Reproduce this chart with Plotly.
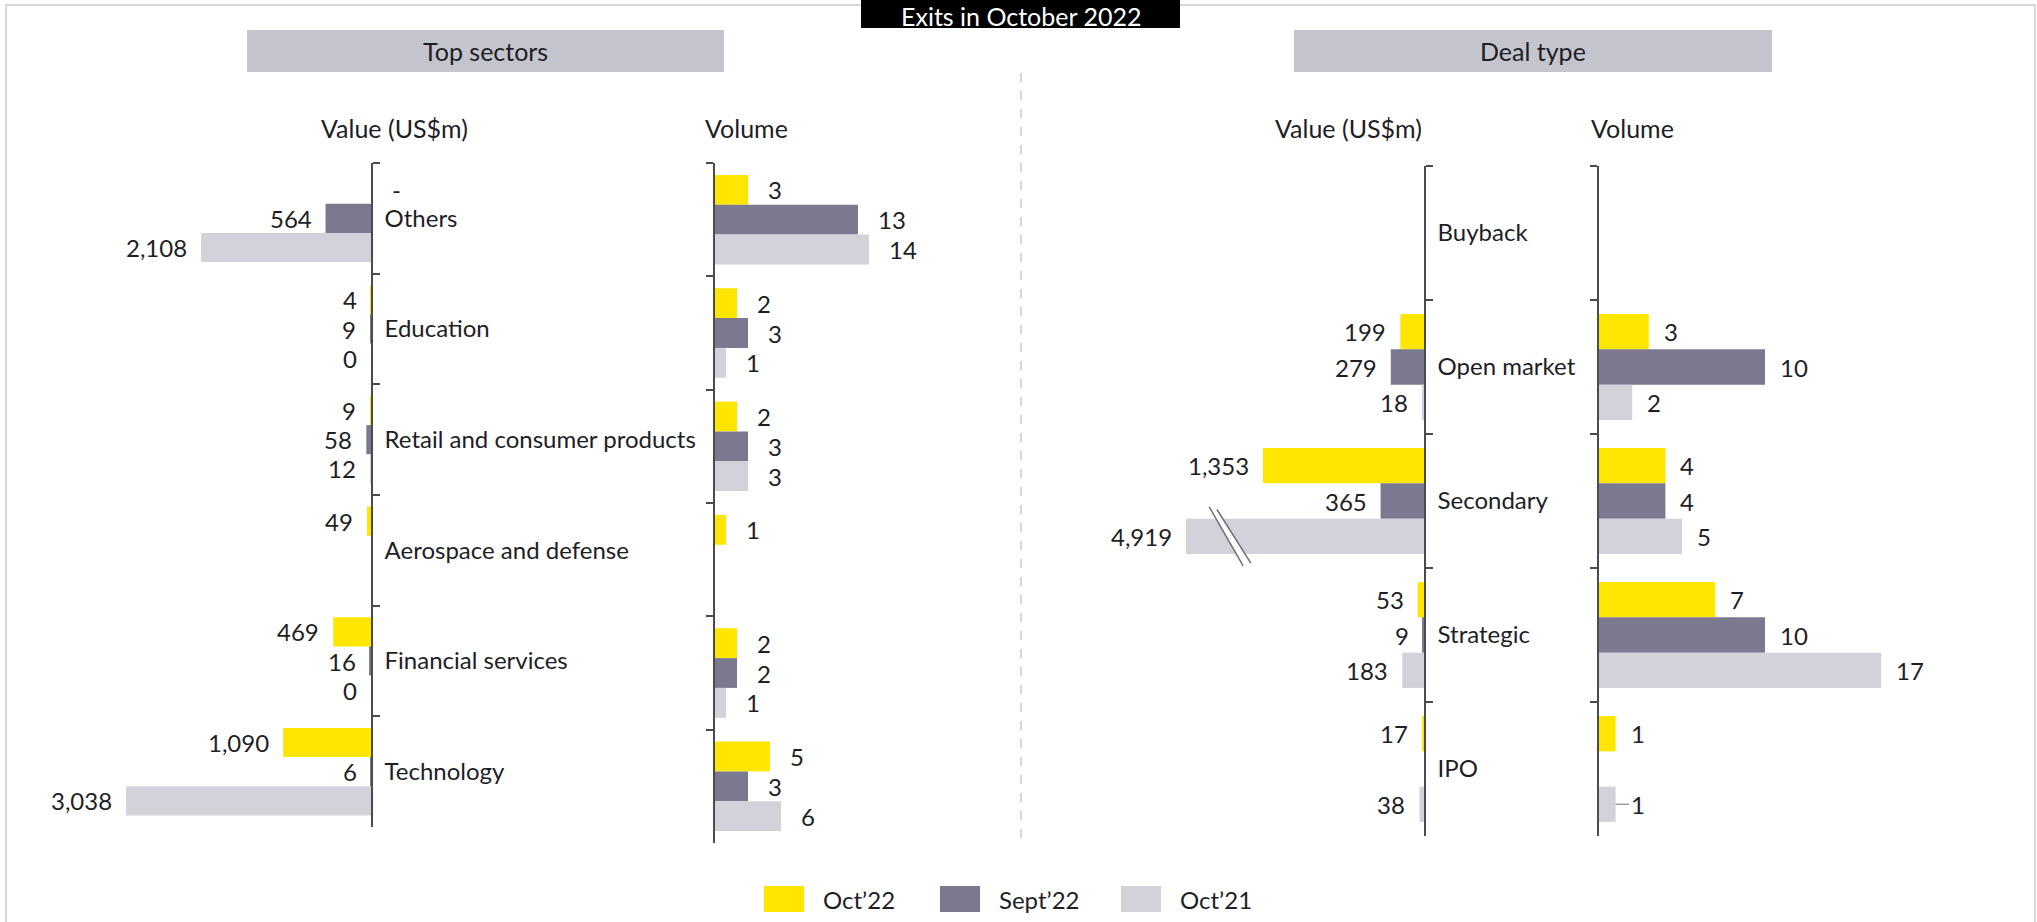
import plotly.graph_objects as go

W, H = 2037, 922

# ---------------- data ----------------
series_names = ["Oct’22", "Sept’22", "Oct’21"]
series_colors = ["#FFE600", "#7A7990", "#D2D2DA"]

sectors = ["Others", "Education", "Retail and consumer products",
           "Aerospace and defense", "Financial services", "Technology"]
sector_value_oct22 = ["-", 4, 9, 49, 469, 1090]
sector_value_sep22 = [564, 9, 58, None, 16, 6]
sector_value_oct21 = [2108, 0, 12, None, 0, 3038]
sector_volume_oct22 = [3, 2, 2, 1, 2, 5]
sector_volume_sep22 = [13, 3, 3, None, 2, 3]
sector_volume_oct21 = [14, 1, 3, None, 1, 6]

deal_types = ["Buyback", "Open market", "Secondary", "Strategic", "IPO"]
deal_value_oct22 = [None, 199, 1353, 53, 17]
deal_value_sep22 = [None, 279, 365, 9, None]
deal_value_oct21 = [None, 18, 4919, 183, 38]
deal_volume_oct22 = [None, 3, 4, 7, 1]
deal_volume_sep22 = [None, 10, 4, 10, None]
deal_volume_oct21 = [None, 2, 5, 17, 1]

title_text = "Exits in October 2022"
panel_titles = ["Top sectors", "Deal type"]
col_titles = ["Value (US$m)", "Volume", "Value (US$m)", "Volume"]

# ---------------- style ----------------
FONT = "Lato"
TXT = "#1e1e26"
AX = "#4a4a55"
FS = 24
BARGAP = 0.21
BW = (1 - BARGAP) / 3


def px(p):
    return p / W


def py(p):
    return 1 - p / H


def num(v):
    return v if isinstance(v, (int, float)) else None


fig = go.Figure()

panels = [
    # axes suffix, categories, series, kind, xmax
    ("", sectors, [sector_value_oct22, sector_value_sep22, sector_value_oct21], "value", 4603),
    ("2", sectors, [sector_volume_oct22, sector_volume_sep22, sector_volume_oct21], "volume", 285 / 11.0),
    ("3", deal_types, [deal_value_oct22, deal_value_sep22, deal_value_oct21], "value", 2000),
    ("4", deal_types, [deal_volume_oct22, deal_volume_sep22, deal_volume_oct21], "volume", 361 / 16.6),
]

annotations = []
for suf, cats, series, kind, xmax in panels:
    for j, vals in enumerate(series):
        fig.add_trace(go.Bar(
            x=[num(v) for v in vals], y=cats, orientation="h",
            name=series_names[j], marker=dict(color=series_colors[j], line=dict(width=0)),
            xaxis="x" + suf, yaxis="y" + suf, showlegend=False, hoverinfo="x+y+name",
            cliponaxis=True,
        ))
        for i, v in enumerate(vals):
            if v is None:
                continue
            yy = i + (j - 1) * BW
            if v == "-":
                annotations.append(dict(x=0, y=yy, xref="x" + suf, yref="y" + suf, text="-",
                                        showarrow=False, xanchor="left", xshift=19,
                                        font=dict(family=FONT, size=FS, color=TXT)))
                continue
            if kind == "value":
                annotations.append(dict(x=min(v, xmax), y=yy, xref="x" + suf, yref="y" + suf,
                                        text=f"{v:,}", showarrow=False, xanchor="right",
                                        xshift=-12, font=dict(family=FONT, size=FS, color=TXT)))
            else:
                sh = 18 if suf == "2" else 13
                annotations.append(dict(x=v, y=yy, xref="x" + suf, yref="y" + suf,
                                        text=f"{v:,}", showarrow=False, xanchor="left",
                                        xshift=sh, font=dict(family=FONT, size=FS, color=TXT)))


def yaxis_common(cats):
    return dict(type="category", categoryorder="array", categoryarray=cats,
                range=[len(cats) - 0.5, -0.5], showline=True, linecolor=AX, linewidth=1.5,
                ticks="outside", ticklen=7, tickwidth=1.5, tickcolor=AX, tickson="boundaries",
                showgrid=False, zeroline=False, fixedrange=True)


hidden_x = dict(visible=False, showgrid=False, zeroline=False, fixedrange=True)

shapes = []
# outer frame
shapes.append(dict(type="rect", xref="paper", yref="paper", x0=px(6), x1=px(2035), y0=py(935), y1=py(5),
                   line=dict(color="#D6D6DE", width=2), fillcolor="rgba(0,0,0,0)", layer="below"))
# title box
shapes.append(dict(type="rect", xref="paper", yref="paper", x0=px(861), x1=px(1180), y0=py(28), y1=py(-5),
                   line=dict(width=0), fillcolor="#000000"))
# panel header boxes
for x0, x1 in [(247, 724), (1294, 1772)]:
    shapes.append(dict(type="rect", xref="paper", yref="paper", x0=px(x0), x1=px(x1), y0=py(72), y1=py(30),
                       line=dict(width=0), fillcolor="#C4C4CD", layer="below"))
# dashed separator
shapes.append(dict(type="line", xref="paper", yref="paper", x0=px(1021), x1=px(1021), y0=py(838), y1=py(68),
                   line=dict(color="#C8C8D0", width=1.5, dash="dash")))
# axis break on the clipped Secondary / Oct'21 bar
ib = deal_types.index("Secondary")
yc = ib + BW
shapes.append(dict(type="line", xref="x3", yref="y3", x0=1770, x1=1480, y0=yc - 0.20, y1=yc + 0.22,
                   line=dict(color="#FFFFFF", width=6)))
for dx in (0, -65):
    shapes.append(dict(type="line", xref="x3", yref="y3", x0=1805 + dx, x1=1520 + dx,
                       y0=yc - 0.22 + (0.02 if dx else 0), y1=yc + 0.22 + (-0.02 if dx else 0),
                       line=dict(color="#6E6E80", width=1.5)))
# small leader line for IPO / Oct'21 volume label
ii = deal_types.index("IPO")
shapes.append(dict(type="line", xref="x4", yref="y4", x0=deal_volume_oct21[ii], x1=deal_volume_oct21[ii] + 0.8,
                   y0=ii + BW, y1=ii + BW, line=dict(color="#9A9AA8", width=1.5)))

# custom legend
legend_x = [764, 940, 1121]
for k, name in enumerate(series_names):
    shapes.append(dict(type="rect", xref="paper", yref="paper", x0=px(legend_x[k]), x1=px(legend_x[k] + 40),
                       y0=py(912), y1=py(886), line=dict(width=0), fillcolor=series_colors[k]))
    annotations.append(dict(x=px(legend_x[k] + 57), y=py(899), xref="paper", yref="paper", text=name,
                            showarrow=False, xanchor="left", yanchor="middle",
                            font=dict(family=FONT, size=FS, color=TXT)))

# title & headers
annotations.append(dict(x=px(1020.5), y=1, xref="paper", yref="paper", text=title_text, showarrow=False,
                        xanchor="center", yanchor="top", borderpad=0,
                        font=dict(family=FONT, size=25, color="#FFFFFF")))
for (cx, t) in zip([485.5, 1533], panel_titles):
    annotations.append(dict(x=px(cx), y=py(51), xref="paper", yref="paper", text=t, showarrow=False,
                            xanchor="center", yanchor="middle", font=dict(family=FONT, size=25, color=TXT)))
for cx, t in zip([394, 746, 1348, 1632], col_titles):
    annotations.append(dict(x=px(cx), y=py(128), xref="paper", yref="paper", text=t, showarrow=False,
                            xanchor="center", yanchor="middle", font=dict(family=FONT, size=25, color=TXT)))

y1 = yaxis_common(sectors)
y1.update(domain=[py(827), py(163)], anchor="x", side="right", showticklabels=True,
          tickfont=dict(family=FONT, size=FS, color=TXT), ticklabelstandoff=7)
y2 = yaxis_common(sectors)
y2.update(domain=[py(843), py(163)], anchor="x2", side="left", showticklabels=False)
y3 = yaxis_common(deal_types)
y3.update(domain=[py(836), py(166)], anchor="x3", side="right", showticklabels=True,
          tickfont=dict(family=FONT, size=FS, color=TXT), ticklabelstandoff=7)
y4 = yaxis_common(deal_types)
y4.update(domain=[py(836), py(166)], anchor="x4", side="left", showticklabels=False)

fig.update_layout(
    width=W, height=H, margin=dict(l=0, r=0, t=0, b=0),
    paper_bgcolor="#FFFFFF", plot_bgcolor="rgba(0,0,0,0)",
    barmode="group", bargap=BARGAP, bargroupgap=0,
    font=dict(family=FONT, size=FS, color=TXT),
    xaxis=dict(hidden_x, domain=[px(0), px(371)], range=[panels[0][4], 0], anchor="y"),
    xaxis2=dict(hidden_x, domain=[px(715), px(1000)], range=[0, panels[1][4]], anchor="y2"),
    xaxis3=dict(hidden_x, domain=[px(1186), px(1424)], range=[panels[2][4], 0], anchor="y3"),
    xaxis4=dict(hidden_x, domain=[px(1599), px(1960)], range=[0, panels[3][4]], anchor="y4"),
    yaxis=y1, yaxis2=y2, yaxis3=y3, yaxis4=y4,
    shapes=shapes, annotations=annotations, showlegend=False,
)

fig.write_html("out.html", config={"displayModeBar": False},
               post_script="document.body.style.margin='0';document.body.style.overflow='hidden';")
